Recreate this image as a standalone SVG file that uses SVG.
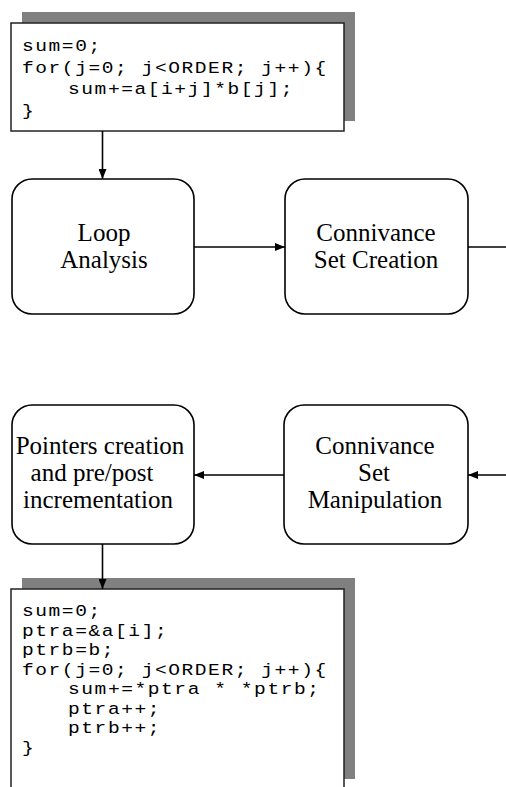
<svg xmlns="http://www.w3.org/2000/svg" width="506" height="787" viewBox="0 0 506 787">
<defs>
<style>
.shadow{fill:#808080;stroke:none}
.code{fill:#fff;stroke:#222;stroke-width:1.5}
.node{fill:#fff;stroke:#000;stroke-width:1.6}
.mono{font-family:"Liberation Mono","Courier New",monospace;font-size:17px;letter-spacing:1.37px;fill:#000}
.lbl{font-family:"Liberation Serif","Times New Roman",serif;font-size:25px;fill:#000;text-anchor:middle}
.conn{stroke:#000;stroke-width:1.6;fill:none}
</style>
<marker id="arr" viewBox="0 0 10 8" refX="10" refY="4" markerWidth="10" markerHeight="8" markerUnits="userSpaceOnUse" orient="auto">
<path d="M0,0 L10,4 L0,8 z" fill="#000"/>
</marker>
</defs>
<rect width="506" height="787" fill="#fff"/>

<g id="code-top">
<rect class="shadow" x="22" y="12" width="333" height="109"/>
<rect class="code" x="11" y="23" width="333" height="108"/>
<g transform="scale(1.15 1)">
<text class="mono" x="19.13" y="51">sum=0;</text>
<text class="mono" x="19.13" y="73">for(j=0; j&lt;ORDER; j++){</text>
<text class="mono" x="59.13" y="94">sum+=a[i+j]*b[j];</text>
<text class="mono" x="19.13" y="116">}</text>
</g>
</g>

<g id="loop-analysis">
<rect class="node" x="12" y="179" width="182" height="135" rx="20"/>
<text class="lbl" x="104" y="241">Loop</text>
<text class="lbl" x="104" y="268">Analysis</text>
</g>

<g id="connivance-set-creation">
<rect class="node" x="285" y="179" width="183" height="135" rx="20"/>
<text class="lbl" x="376" y="241">Connivance</text>
<text class="lbl" x="376" y="268">Set Creation</text>
</g>

<g id="pointers-creation">
<rect class="node" x="12" y="405" width="182" height="139" rx="20"/>
<text class="lbl" x="100" y="454">Pointers creation</text>
<text class="lbl" x="92" y="481">and pre/post</text>
<text class="lbl" x="98" y="508">incrementation</text>
</g>

<g id="connivance-set-manipulation">
<rect class="node" x="284" y="405" width="184" height="139" rx="20"/>
<text class="lbl" x="375" y="454">Connivance</text>
<text class="lbl" x="374" y="481">Set</text>
<text class="lbl" x="375" y="508">Manipulation</text>
</g>

<g id="code-bottom">
<rect class="shadow" x="22" y="578" width="333" height="201"/>
<path class="code" d="M11,790 L11,589 L344,589 L344,790"/>
<rect x="12" y="590" width="331" height="200" fill="#fff"/>
<g transform="scale(1.15 1)">
<text class="mono" x="19.13" y="616">sum=0;</text>
<text class="mono" x="19.13" y="636">ptra=&amp;a[i];</text>
<text class="mono" x="19.13" y="655">ptrb=b;</text>
<text class="mono" x="19.13" y="675">for(j=0; j&lt;ORDER; j++){</text>
<text class="mono" x="59.13" y="694">sum+=*ptra * *ptrb;</text>
<text class="mono" x="59.13" y="714">ptra++;</text>
<text class="mono" x="59.13" y="733">ptrb++;</text>
<text class="mono" x="19.13" y="753">}</text>
</g>
</g>

<g id="connectors">
<line class="conn" x1="102.5" y1="131" x2="102.5" y2="179" marker-end="url(#arr)"/>
<line class="conn" x1="194" y1="247" x2="285" y2="247" marker-end="url(#arr)"/>
<line class="conn" x1="468" y1="247" x2="506" y2="247"/>
<line class="conn" x1="506" y1="475" x2="468" y2="475" marker-end="url(#arr)"/>
<line class="conn" x1="284" y1="475" x2="194" y2="475" marker-end="url(#arr)"/>
<line class="conn" x1="102.5" y1="544" x2="102.5" y2="589" marker-end="url(#arr)"/>
</g>
</svg>
